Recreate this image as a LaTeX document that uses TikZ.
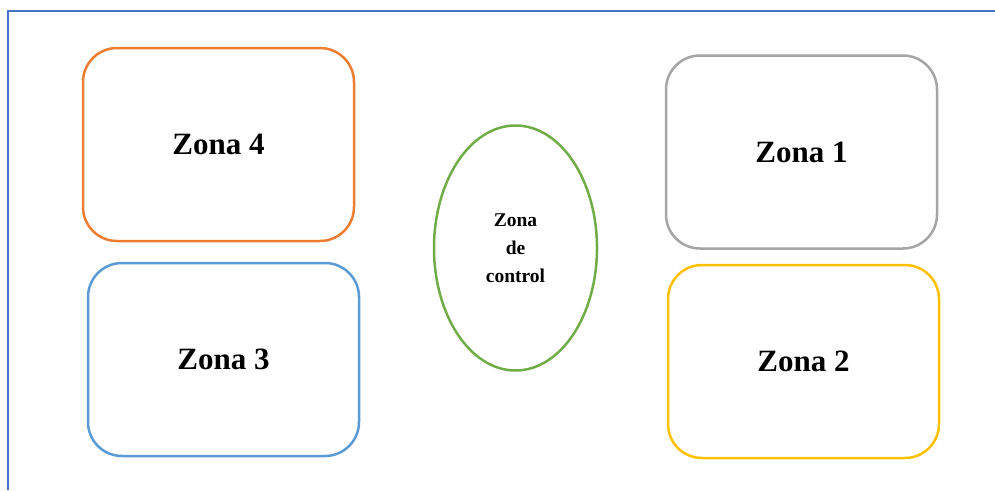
\documentclass[tikz,border=0pt]{standalone}
\usepackage{fontspec}
\setmainfont{Liberation Serif}
\usetikzlibrary{shapes.geometric}
\definecolor{frameblue}{HTML}{4472C4}
\definecolor{zorange}{HTML}{ED7D31}
\definecolor{zblue}{HTML}{5B9BD5}
\definecolor{zgray}{HTML}{A5A5A5}
\definecolor{zgold}{HTML}{FFC000}
\definecolor{zgreen}{HTML}{70AD47}
\tikzset{
  zonebox/.style={draw, line width=2.5pt, rounded corners=34pt, minimum width=271pt, minimum height=193pt, inner sep=0pt, font=\fontsize{31}{37}\selectfont\bfseries},
  ctrl/.style={draw=zgreen, line width=2.5pt, ellipse, minimum width=163pt, minimum height=245pt, inner sep=0pt, align=center, font=\fontsize{19.5}{28}\selectfont\bfseries}
}
\begin{document}
\begin{tikzpicture}[x=1pt,y=-1pt]
\useasboundingbox (0,0) rectangle (995,490);
\coordinate (ftl) at (8,11);
\coordinate (ftr) at (995,11);
\coordinate (fbl) at (8,490);
\draw[frameblue, line width=2.8pt] (fbl) -- (ftl) -- (ftr);
\node[zonebox, draw=zorange] (z4) at (218.5,144.5) {Zona 4};
\node[zonebox, draw=zblue] (z3) at (223.5,359.5) {Zona 3};
\node[zonebox, draw=zgray] (z1) at (801.5,152) {Zona 1};
\node[zonebox, draw=zgold] (z2) at (803.5,361.5) {Zona 2};
\node[ctrl] (zc) at (515.5,248) {Zona\\de\\control};
\end{tikzpicture}
\end{document}
